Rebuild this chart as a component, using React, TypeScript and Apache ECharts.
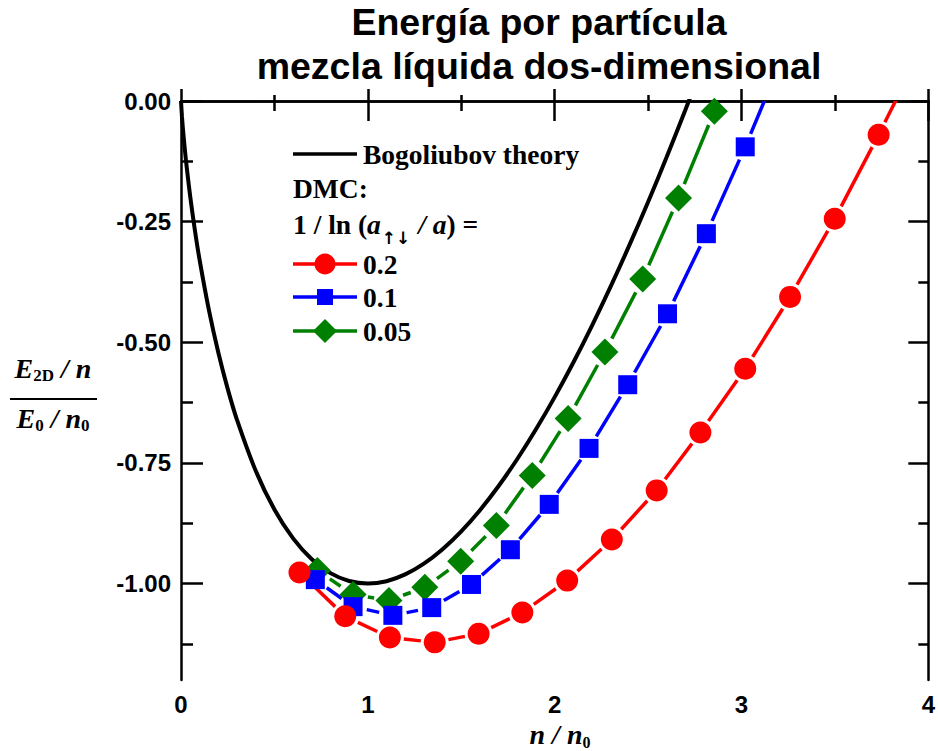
import React, { useEffect, useRef } from 'react';
import * as echarts from 'echarts';

// ---------- data ----------
const TITLE_LINES = ['Energía por partícula', 'mezcla líquida dos-dimensional'];
const Y_MAJOR = [0, -0.25, -0.5, -0.75, -1.0];
const Y_MINOR = [-0.125, -0.375, -0.625, -0.875, -1.125];

// Bogoliubov theory curve
const BOG_X = [0, 0.005, 0.01, 0.02, 0.03, 0.05, 0.075, 0.1, 0.15, 0.2, 0.25, 0.3, 0.4, 0.5, 0.6, 0.7, 0.8, 0.9, 1.0,
  1.1, 1.2, 1.3, 1.4, 1.5, 1.6, 1.7, 1.8, 1.9, 2.0, 2.1, 2.2, 2.3, 2.4, 2.5, 2.6, 2.7, 2.8];
const BOG_Y = [0, -0.0315, -0.0561, -0.0982, -0.1352, -0.1998, -0.2693, -0.3303, -0.4346, -0.5219, -0.5966, -0.6612,
  -0.7665, -0.8466, -0.9065, -0.9497, -0.9785, -0.9948, -1.0, -0.9952, -0.9812, -0.9589, -0.9289, -0.8918, -0.848,
  -0.7979, -0.742, -0.6804, -0.6137, -0.542, -0.4654, -0.3843, -0.2988, -0.2092, -0.1157, -0.0181, 0.0829];

// DMC 1/ln(a↑↓/a) = 0.2
const RED_X = [0.634, 0.879, 1.118, 1.358, 1.593, 1.827, 2.067, 2.306, 2.546, 2.78, 3.02, 3.26, 3.499, 3.734, 3.973];
const RED_Y = [-0.977, -1.068, -1.112, -1.122, -1.104, -1.06, -0.994, -0.909, -0.807, -0.687, -0.555, -0.406, -0.244, -0.07, 0.115];
// DMC 0.1
const BLUE_X = [0.719, 0.921, 1.134, 1.342, 1.555, 1.763, 1.971, 2.184, 2.391, 2.604, 2.812, 3.02, 3.23];
const BLUE_Y = [-0.992, -1.048, -1.066, -1.05, -1.002, -0.93, -0.836, -0.72, -0.588, -0.441, -0.275, -0.095, 0.1];
// DMC 0.05
const GREEN_X = [0.73, 0.921, 1.113, 1.305, 1.497, 1.688, 1.88, 2.072, 2.269, 2.471, 2.663, 2.855, 3.047];
const GREEN_Y = [-0.973, -1.023, -1.035, -1.008, -0.954, -0.88, -0.776, -0.658, -0.52, -0.369, -0.201, -0.021, 0.165];

const SERIES_NAMES = ['Bogoliubov theory', '0.2', '0.1', '0.05'];

// ---------- helpers ----------
const zip = (xs: number[], ys: number[]) => xs.map((x, i) => [x, ys[i]]);
const segments = (xs: number[], ys: number[]) =>
  xs.slice(0, -1).map((x, i) => [x, ys[i], xs[i + 1], ys[i + 1]]);

const gapRender = (color: string, gap: number) => (_params: any, api: any) => {
  const a = api.coord([api.value(0), api.value(1)]);
  const b = api.coord([api.value(2), api.value(3)]);
  const dx = b[0] - a[0];
  const dy = b[1] - a[1];
  const len = Math.hypot(dx, dy);
  if (len <= 2 * gap) return { type: 'group', children: [] };
  const ux = dx / len;
  const uy = dy / len;
  return {
    type: 'line',
    shape: { x1: a[0] + ux * gap, y1: a[1] + uy * gap, x2: b[0] - ux * gap, y2: b[1] - uy * gap },
    style: { stroke: color, lineWidth: 3.5 },
  };
};

const SANS = '"Liberation Sans", Arial, sans-serif';
const SERIF = '"Liberation Serif", "Times New Roman", serif';
const BLACK = '#000';
const RED = '#ff0000';
const BLUE = '#0000ff';
const GREEN = '#008000';

export default function App() {
  const ref = useRef<HTMLDivElement>(null);

  useEffect(() => {
    document.body.style.margin = '0';
    if (!ref.current) return;
    const chart = echarts.init(ref.current, undefined, { renderer: 'svg' });

    const axisLineStyle = { color: BLACK, width: 2.5 };
    const tickStyle = { color: BLACK, width: 2.5 };
    const labelStyle = { fontFamily: SANS, fontWeight: 'bold' as const, fontSize: 24, color: BLACK };

    const xBase = { type: 'value' as const, min: 0, max: 4, interval: 1, splitLine: { show: false } };
    const yBase = { type: 'value' as const, min: -1.2, max: 0, splitLine: { show: false } };

    const richMain = { fontFamily: SERIF, fontWeight: 'bold', fontStyle: 'italic', fontSize: 28, lineHeight: 32, verticalAlign: 'middle', fill: BLACK, color: BLACK };
    const richSub = { fontFamily: SERIF, fontWeight: 'bold', fontSize: 17, lineHeight: 20, verticalAlign: 'bottom', color: BLACK };

    const legendFont = { fontFamily: SERIF, fontWeight: 'bold', fontSize: 27.5, fill: BLACK, verticalAlign: 'middle' };

    chart.setOption({
      animation: false,
      backgroundColor: '#fff',
      grid: { left: 181, right: 7, top: 101, bottom: 71, containLabel: false },
      xAxis: [
        {
          ...xBase,
          position: 'bottom',
          axisLine: { show: true, lineStyle: axisLineStyle },
          axisTick: { show: true, inside: true, length: 12, lineStyle: tickStyle },
          minorTick: { show: true, splitNumber: 2, length: 6, lineStyle: tickStyle },
          axisLabel: { ...labelStyle, margin: 12 },
        },
        {
          ...xBase,
          position: 'top',
          axisLine: { show: true, lineStyle: axisLineStyle },
          axisTick: { show: true, inside: true, length: 20, lineStyle: tickStyle },
          minorTick: { show: true, splitNumber: 2, length: 10, lineStyle: tickStyle },
          axisLabel: { show: false },
        },
      ],
      yAxis: [
        {
          ...yBase,
          position: 'left',
          axisLine: { show: true, lineStyle: axisLineStyle },
          axisTick: { show: true, inside: true, length: 22, lineStyle: tickStyle, customValues: Y_MAJOR },
          axisLabel: { ...labelStyle, margin: 10, customValues: Y_MAJOR, formatter: (v: number) => v.toFixed(2) },
        },
        {
          ...yBase,
          position: 'left',
          axisLine: { show: false },
          axisTick: { show: true, inside: true, length: 12, lineStyle: tickStyle, customValues: Y_MINOR },
          axisLabel: { show: false },
        },
        {
          ...yBase,
          position: 'right',
          axisLine: { show: true, lineStyle: axisLineStyle },
          axisTick: { show: true, inside: true, length: 20, lineStyle: tickStyle, customValues: Y_MAJOR },
          axisLabel: { show: false },
        },
        {
          ...yBase,
          position: 'right',
          axisLine: { show: false },
          axisTick: { show: true, inside: true, length: 10, lineStyle: tickStyle, customValues: Y_MINOR },
          axisLabel: { show: false },
        },
      ],
      series: [
        {
          name: SERIES_NAMES[0],
          type: 'line',
          data: zip(BOG_X, BOG_Y),
          showSymbol: false,
          symbol: 'none',
          smooth: 0.35,
          clip: true,
          lineStyle: { color: BLACK, width: 4 },
          z: 1,
        },
        {
          name: SERIES_NAMES[3] + ' line',
          type: 'custom',
          data: segments(GREEN_X, GREEN_Y),
          encode: { x: [0, 2], y: [1, 3] },
          renderItem: gapRender(GREEN, 15),
          clip: true,
          z: 2,
        },
        {
          name: SERIES_NAMES[2] + ' line',
          type: 'custom',
          data: segments(BLUE_X, BLUE_Y),
          encode: { x: [0, 2], y: [1, 3] },
          renderItem: gapRender(BLUE, 14),
          clip: true,
          z: 2,
        },
        {
          name: SERIES_NAMES[1] + ' line',
          type: 'custom',
          data: segments(RED_X, RED_Y),
          encode: { x: [0, 2], y: [1, 3] },
          renderItem: gapRender(RED, 14),
          clip: true,
          z: 2,
        },
        {
          name: SERIES_NAMES[3],
          type: 'scatter',
          data: zip(GREEN_X, GREEN_Y),
          symbol: 'diamond',
          symbolSize: 27,
          itemStyle: { color: GREEN, opacity: 1 },
          clip: true,
          z: 3,
        },
        {
          name: SERIES_NAMES[2],
          type: 'scatter',
          data: zip(BLUE_X, BLUE_Y),
          symbol: 'rect',
          symbolSize: 19,
          itemStyle: { color: BLUE, opacity: 1 },
          clip: true,
          z: 4,
        },
        {
          name: SERIES_NAMES[1],
          type: 'scatter',
          data: zip(RED_X, RED_Y),
          symbol: 'circle',
          symbolSize: 22,
          itemStyle: { color: RED, opacity: 1 },
          clip: true,
          z: 5,
        },
      ],
      graphic: [
        // title
        {
          type: 'text', x: 539, y: 22, z: 10,
          style: { text: TITLE_LINES[0], fontFamily: SANS, fontWeight: 'bold', fontSize: 37.5, fill: BLACK, align: 'center', verticalAlign: 'middle' },
        },
        {
          type: 'text', x: 539, y: 66, z: 10,
          style: { text: TITLE_LINES[1], fontFamily: SANS, fontWeight: 'bold', fontSize: 37.5, fill: BLACK, align: 'center', verticalAlign: 'middle' },
        },
        // legend
        { type: 'line', shape: { x1: 293, y1: 154, x2: 357, y2: 154 }, style: { stroke: BLACK, lineWidth: 3.5 }, z: 10 },
        { type: 'text', x: 363, y: 154, z: 10, style: { ...legendFont, text: SERIES_NAMES[0] } },
        { type: 'text', x: 293, y: 188, z: 10, style: { ...legendFont, text: 'DMC:' } },
        {
          type: 'text', x: 293, y: 224, z: 10,
          style: {
            text: '{m|1 / ln (}{i|a}{s|↑↓}{i| /}{i| a}{m|) =}',
            verticalAlign: 'middle',
            rich: {
              m: { fontFamily: SERIF, fontWeight: 'bold', fontSize: 27.5, lineHeight: 32, verticalAlign: 'middle', fill: BLACK },
              i: { fontFamily: SERIF, fontWeight: 'bold', fontStyle: 'italic', fontSize: 27.5, lineHeight: 32, verticalAlign: 'middle', fill: BLACK },
              s: { fontFamily: '"DejaVu Sans", sans-serif', fontWeight: 'bold', fontSize: 17, lineHeight: 22, verticalAlign: 'bottom', fill: BLACK, color: BLACK, padding: [0, 1, -6, 1] },
            },
          },
        },
        { type: 'line', shape: { x1: 293, y1: 264, x2: 357, y2: 264 }, style: { stroke: RED, lineWidth: 3.5 }, z: 10 },
        { type: 'circle', shape: { cx: 325, cy: 264, r: 10.5 }, style: { fill: RED }, z: 10 },
        { type: 'text', x: 363, y: 264, z: 10, style: { ...legendFont, text: SERIES_NAMES[1] } },
        { type: 'line', shape: { x1: 293, y1: 297, x2: 357, y2: 297 }, style: { stroke: BLUE, lineWidth: 3.5 }, z: 10 },
        { type: 'rect', shape: { x: 317, y: 289, width: 16, height: 16 }, style: { fill: BLUE }, z: 10 },
        { type: 'text', x: 363, y: 297, z: 10, style: { ...legendFont, text: SERIES_NAMES[2] } },
        { type: 'line', shape: { x1: 293, y1: 331, x2: 357, y2: 331 }, style: { stroke: GREEN, lineWidth: 3.5 }, z: 10 },
        { type: 'polygon', shape: { points: [[325, 319], [337, 331], [325, 343], [313, 331]] }, style: { fill: GREEN }, z: 10 },
        { type: 'text', x: 363, y: 331, z: 10, style: { ...legendFont, text: SERIES_NAMES[3] } },
        // y axis name (fraction)
        {
          type: 'text', x: 53, y: 368, z: 10,
          style: {
            text: '{e|E}{s|2D}{e| / n}',
            align: 'center', verticalAlign: 'middle',
            rich: { e: richMain, s: richSub },
          },
        },
        { type: 'line', shape: { x1: 10, y1: 399, x2: 97, y2: 399 }, style: { stroke: BLACK, lineWidth: 2 }, z: 10 },
        {
          type: 'text', x: 53, y: 418, z: 10,
          style: {
            text: '{e|E}{s|0}{e| / n}{s|0}',
            align: 'center', verticalAlign: 'middle',
            rich: { e: richMain, s: richSub },
          },
        },
        // x axis name
        {
          type: 'text', x: 560, y: 734, z: 10,
          style: {
            text: '{e|n / n}{s|0}',
            align: 'center', verticalAlign: 'middle',
            rich: {
              e: { ...richMain, fontSize: 28 },
              s: { ...richSub, fontSize: 16 },
            },
          },
        },
      ],
    });

    return () => chart.dispose();
  }, []);

  return <div ref={ref} style={{ width: 938, height: 751 }} />;
}
